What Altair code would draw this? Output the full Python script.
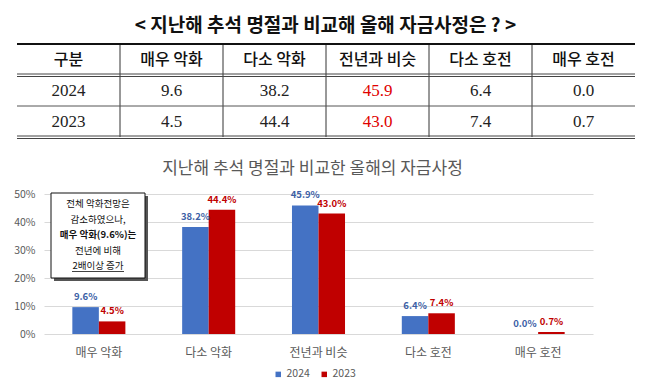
import altair as alt
import pandas as pd

# ---------------- data ----------------
main_title = "< 지난해 추석 명절과 비교해 올해 자금사정은 ? >"
chart_title = "지난해 추석 명절과 비교한 올해의 자금사정"
header_label = "구분"
categories = ["매우 악화", "다소 악화", "전년과 비슷", "다소 호전", "매우 호전"]
years = ["2024", "2023"]
values_2024 = [9.6, 38.2, 45.9, 6.4, 0.0]
values_2023 = [4.5, 44.4, 43.0, 7.4, 0.7]
highlight_col = "전년과 비슷"
y_ticks = [0, 10, 20, 30, 40, 50]
note_lines = ["전체 악화전망은", "감소하였으나,", "매우 악화(9.6%)는", "전년에 비해", "2배이상 증가"]
note_bold = [False, False, True, False, False]

# ---------------- styles ----------------
BLUE = "#4472C4"
RED = "#C00000"
BLUE_LBL = "#3C5FA6"
RED_LBL = "#C00000"
GRAY_TXT = "#595959"
KFONT = "Noto Sans CJK KR"
SERIF = "Liberation Serif"
TBL_L, TBL_R = -27, 591   # table extent relative to the bar plot's left edge

# ---------------- table ----------------
table_cols = [header_label] + categories
row_order = [header_label] + years

cells = []
for c in table_cols:
    cells.append({"row": header_label, "col": c, "label": c, "kind": "head"})
for yr, vals in zip(years, [values_2024, values_2023]):
    cells.append({"row": yr, "col": header_label, "label": yr, "kind": "num"})
    for c, v in zip(categories, vals):
        cells.append({"row": yr, "col": c, "label": f"{v:.1f}",
                      "kind": "hl" if c == highlight_col else "num"})
cells_df = pd.DataFrame(cells)

xscale_t = alt.Scale(domain=table_cols, range=[TBL_L, TBL_R], paddingInner=0, paddingOuter=0)
yscale_t = alt.Scale(domain=row_order, paddingInner=0, paddingOuter=0)
tx = alt.X("col:N", sort=table_cols, axis=None, scale=xscale_t)
ty = alt.Y("row:N", sort=row_order, axis=None, scale=yscale_t)

base_t = alt.Chart(cells_df)
head_txt = base_t.transform_filter("datum.kind == 'head'").mark_text(
    font=KFONT, fontSize=16, fontWeight=500, color="#111"
).encode(x=tx, y=ty, text="label:N")
num_txt = base_t.transform_filter("datum.kind == 'num'").mark_text(
    font=SERIF, fontSize=17, color="#222"
).encode(x=tx, y=ty, text="label:N")
hl_txt = base_t.transform_filter("datum.kind == 'hl'").mark_text(
    font=SERIF, fontSize=17, color="#E00000"
).encode(x=tx, y=ty, text="label:N")

def hrule(row, band, width, offset, color="#222"):
    return alt.Chart(pd.DataFrame({"row": [row]})).mark_rule(
        strokeWidth=width, color=color, yOffset=offset
    ).encode(y=alt.Y("row:N", sort=row_order, axis=None, bandPosition=band, scale=yscale_t),
             x=alt.value(TBL_L), x2=alt.value(TBL_R))

vrules = alt.Chart(pd.DataFrame({"col": table_cols[1:]})).mark_rule(
    strokeWidth=1, color="#333"
).encode(x=alt.X("col:N", sort=table_cols, axis=None, bandPosition=0, scale=xscale_t),
         y=alt.value(0), y2=alt.value("height"))

table = alt.layer(
    vrules,
    hrule(header_label, 0, 2, 0, "#111"),
    hrule(years[0], 0, 1, -1, "#444"),
    hrule(years[0], 0, 1, 1.5, "#444"),
    hrule(years[1], 0, 1, 0, "#555"),
    hrule(years[1], 1, 1, -1, "#444"),
    hrule(years[1], 1, 1, 1.5, "#444"),
    head_txt, num_txt, hl_txt,
).properties(
    width=549, height=93,
    title=alt.TitleParams(main_title, font=KFONT, fontSize=19, fontWeight="bold",
                          color="#111", anchor="middle", offset=7, dx=7),
)

# ---------------- bar chart ----------------
rows = []
for yr, vals in zip(years, [values_2024, values_2023]):
    for c, v in zip(categories, vals):
        rows.append({"category": c, "year": yr, "value": v, "label": f"{v:.1f}%"})
bars_df = pd.DataFrame(rows)

bx = alt.X("category:N", sort=categories,
           scale=alt.Scale(paddingInner=0.517, paddingOuter=0.258),
           axis=alt.Axis(title=None, labelFontSize=12, labelFont=KFONT, labelColor=GRAY_TXT,
                         ticks=False, tickSize=0, domain=False, labelPadding=13, labelAngle=0))
bxo = alt.XOffset("year:N", sort=years, scale=alt.Scale(domain=years, paddingInner=0, paddingOuter=0))
by = alt.Y("value:Q", scale=alt.Scale(domain=[0, 50], nice=False),
           axis=alt.Axis(title=None, values=y_ticks, labelExpr="datum.value + '%'",
                         labelFontSize=10.5, labelFont=KFONT, labelColor=GRAY_TXT,
                         ticks=False, tickSize=0, domain=False, labelPadding=9,
                         grid=True, gridColor="#D9D9D9", gridWidth=1))

base_b = alt.Chart(bars_df)
bars = base_b.mark_bar().encode(
    x=bx, xOffset=bxo, y=by,
    color=alt.Color("year:N", sort=years, scale=alt.Scale(domain=years, range=[BLUE, RED]),
                    legend=alt.Legend(title=None, orient="none", legendX=229, legendY=325,
                                      direction="horizontal", symbolType="square",
                                      symbolSize=30, symbolStrokeWidth=0,
                                      labelFontSize=10.5, labelFont=KFONT, labelColor=GRAY_TXT,
                                      labelOffset=3, columnPadding=9)),
)
labels = base_b.mark_text(dy=-10, fontSize=9.5, fontWeight="bold", font=KFONT).encode(
    x=bx, xOffset=bxo, y=by, text="label:N",
    color=alt.condition(f"datum.year == '{years[0]}'", alt.value(BLUE_LBL), alt.value(RED_LBL)),
)

one = pd.DataFrame({"k": [0]})
shadow = alt.Chart(one).mark_rect(fill="#555").encode(
    x=alt.value(10), x2=alt.value(104), y=alt.value(2), y2=alt.value(87))
box = alt.Chart(one).mark_rect(fill="white", stroke="#111", strokeWidth=1).encode(
    x=alt.value(7), x2=alt.value(101), y=alt.value(-1), y2=alt.value(84))
note_layers = []
for i, (ln, b) in enumerate(zip(note_lines, note_bold)):
    note_layers.append(alt.Chart(one).mark_text(
        font=KFONT, fontSize=9.5, fontWeight="bold" if b else "normal", color="#111"
    ).encode(x=alt.value(54), y=alt.value(10 + 15.5 * i), text=alt.value(ln)))
underline = alt.Chart(one).mark_rule(color="#111", strokeWidth=0.8).encode(
    x=alt.value(28), x2=alt.value(80), y=alt.value(77.5))

barchart = alt.layer(bars, labels, shadow, box, *note_layers, underline).properties(
    width=549, height=140,
    title=alt.TitleParams(chart_title, font=KFONT, fontSize=17, fontWeight="normal",
                          color=GRAY_TXT, anchor="middle", offset=11, dx=-6),
)

chart = alt.vconcat(table, barchart, spacing=21).configure(
    padding={"left": 5, "top": 9, "right": 0, "bottom": 0}
).configure_view(stroke=None)

chart.save("out.html", embed_options={"renderer": "svg", "actions": False})
